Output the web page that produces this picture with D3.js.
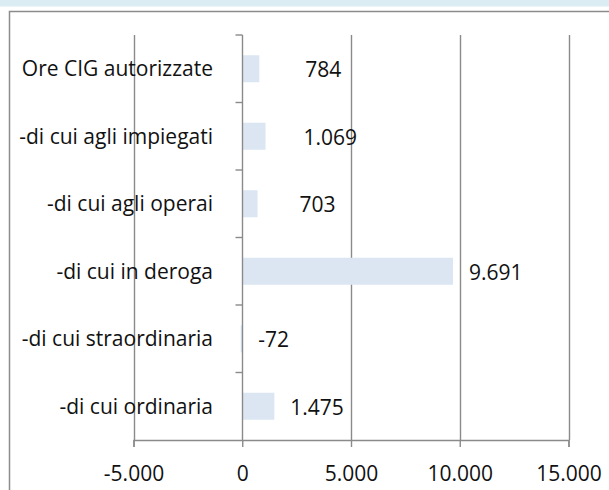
<!DOCTYPE html>
<html>
<head>
<meta charset="utf-8">
<script src="https://cdn.jsdelivr.net/npm/d3@7"></script>
<style>
  html, body { margin: 0; padding: 0; background: #fff; }
  svg { display: block; font-family: "Open Sans", sans-serif; }
</style>
</head>
<body>
<svg id="chart" width="609" height="490"></svg>
<script>
// ── Data ──────────────────────────────────────────────────────────────────────
const categories = [
  'Ore CIG autorizzate',
  '-di cui agli impiegati',
  '-di cui agli operai',
  '-di cui in deroga',
  '-di cui straordinaria',
  '-di cui ordinaria'
];
const values = [784, 1069, 703, 9691, -72, 1475];
const xTicks = [-5000, 0, 5000, 10000, 15000];

// ── Layout ────────────────────────────────────────────────────────────────────
const W = 609, H = 490;
const M = { top: 35, left: 133.5, right: 568.5, bottom: 440 };
const GRID = '#8a8a8a';
const BAR = '#dce6f2';
const TXT = '#111';
const FS = 21;
// labels that Excel left nudged to the right of the bar end
const labelDx = [30, 22, 26, 0, 0, 0];

const it = d3.formatLocale({ decimal: ',', thousands: '.', grouping: [3], currency: ['€', ''], minus: '-' });
const fmt = it.format(',.0f');

const svg = d3.select('#chart');

// top band + outer frame
svg.append('rect').attr('x', 0).attr('y', 0).attr('width', W).attr('height', 6.5).attr('fill', '#dbecf3');
svg.append('path')
  .attr('d', `M9.5,${H + 2}V11.5H${W + 2}`)
  .attr('fill', 'none').attr('stroke', '#8c8c8c').attr('stroke-width', 1.5);

const x = d3.scaleLinear().domain([-5000, 15000]).range([M.left, M.right]);
const y = d3.scaleBand().domain(categories).range([M.top, M.bottom]).paddingInner(0.6).paddingOuter(0.3);
const step = y.step();

// vertical gridlines
svg.append('g').selectAll('line').data(xTicks.filter(d => d !== 0)).join('line')
  .attr('x1', d => Math.round(x(d)) + 0.5).attr('x2', d => Math.round(x(d)) + 0.5)
  .attr('y1', M.top).attr('y2', M.bottom)
  .attr('stroke', GRID).attr('stroke-width', 1.4);

// bars
svg.append('g').selectAll('rect').data(values).join('rect')
  .attr('x', d => x(Math.min(0, d)))
  .attr('y', (d, i) => y(categories[i]))
  .attr('width', d => Math.abs(x(d) - x(0)))
  .attr('height', y.bandwidth())
  .attr('fill', BAR);

// x axis
const xAxis = svg.append('g')
  .attr('transform', `translate(0,${M.bottom})`)
  .call(d3.axisBottom(x).tickValues(xTicks).tickFormat(fmt).tickSize(7).tickPadding(19));
xAxis.select('.domain').attr('stroke', GRID).attr('stroke-width', 1.4);
xAxis.selectAll('.tick line').attr('stroke', GRID).attr('stroke-width', 1.4);
xAxis.selectAll('.tick text')
  .attr('font-family', '"Open Sans", sans-serif').attr('font-size', FS).attr('fill', TXT);

// category axis at zero
const x0 = Math.round(x(0)) + 0.5;
const cat = svg.append('g');
cat.append('line')
  .attr('x1', x0).attr('x2', x0).attr('y1', M.top).attr('y2', M.bottom)
  .attr('stroke', GRID).attr('stroke-width', 1.4);
cat.selectAll('line.tk').data(d3.range(categories.length)).join('line')
  .attr('class', 'tk')
  .attr('x1', x0 - 7).attr('x2', x0)
  .attr('y1', i => M.top + i * step).attr('y2', i => M.top + i * step)
  .attr('stroke', GRID).attr('stroke-width', 1.4);

// category labels
svg.append('g').selectAll('text').data(categories).join('text')
  .attr('x', 213)
  .attr('y', d => y(d) + y.bandwidth() / 2)
  .attr('dy', '0.35em')
  .attr('text-anchor', 'end')
  .attr('font-size', FS).attr('fill', TXT)
  .text(d => d);

// value labels
svg.append('g').selectAll('text').data(values).join('text')
  .attr('x', (d, i) => x(Math.max(0, d)) + 16 + labelDx[i])
  .attr('y', (d, i) => y(categories[i]) + y.bandwidth() / 2 + 1)
  .attr('dy', '0.35em')
  .attr('font-size', FS).attr('fill', TXT)
  .text(d => fmt(d));
</script>
</body>
</html>
